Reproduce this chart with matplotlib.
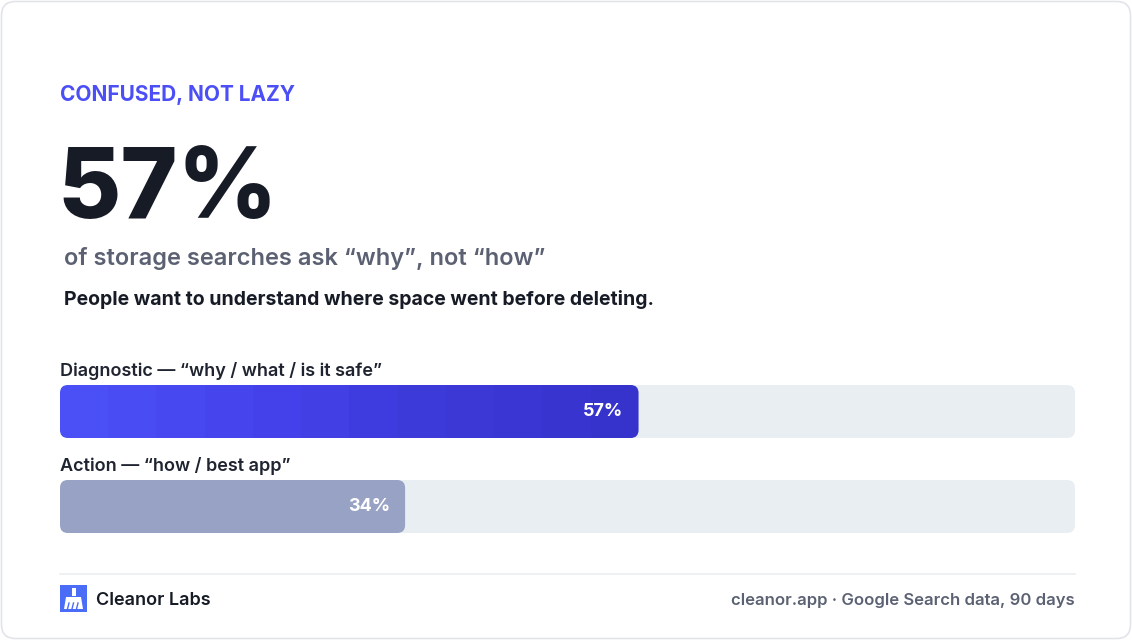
import numpy as np
import matplotlib.pyplot as plt
from matplotlib.patches import FancyBboxPatch, Rectangle, Polygon
from matplotlib.colors import LinearSegmentedColormap

plt.rcParams['font.family'] = ['Inter', 'DejaVu Sans']

# data
categories = ['Diagnostic — “why / what / is it safe”', 'Action — “how / best app”']
shares = [57, 34]
bar_labels = ['57%', '34%']
headline = '57%'
kicker = 'CONFUSED, NOT LAZY'
subtitle = 'of storage searches ask “why”, not “how”'
note = 'People want to understand where space went before deleting.'
brand = 'Cleanor Labs'
source = 'cleanor.app · Google Search data, 90 days'

W, H = 1132, 641
fig = plt.figure(figsize=(W / 100, H / 100), dpi=100)
bg = fig.add_axes([0, 0, 1, 1])
bg.set_xlim(0, W)
bg.set_ylim(H, 0)
bg.axis('off')

# card
bg.add_patch(FancyBboxPatch((1.5, 1.5), W - 3, H - 4, boxstyle='round,pad=0,rounding_size=14',
                            fc='white', ec='#e2e4ea', lw=1.2))

ink = '#161b26'
grey = '#5b6172'
bg.text(60, 101, kicker, color='#4b4ff5', fontsize=15, fontweight='bold', va='baseline')
bg.text(57, 218, headline, color=ink, fontsize=70, fontweight='heavy', va='baseline')
bg.text(64, 265, subtitle, color=grey, fontsize=17, fontweight='semibold', va='baseline')
bg.text(64, 305, note, color=ink, fontsize=14, fontweight='bold', va='baseline')

# footer
bg.plot([60, 1075], [574, 574], color='#eceef2', lw=1.2)
bg.add_patch(Rectangle((60, 585), 27, 27, fc='#4a6cf7', ec='none'))
bg.add_patch(Rectangle((72, 588), 3.5, 8, fc='white', ec='none'))
bg.add_patch(Polygon([(66, 597), (81, 597), (83, 609), (64, 609)], closed=True, fc='white', ec='none'))
for xl in [69, 73.5, 78]:
    bg.plot([xl, xl - 1.5], [603, 609], color='#4a6cf7', lw=1)
bg.text(96, 605, brand, color=ink, fontsize=13, fontweight='semibold', va='baseline')
bg.text(1075, 605, source, color=grey, fontsize=12, fontweight='semibold', va='baseline', ha='right')

# bars
x0, x1 = 60, 1075
top, bot = 385, 533
gap = 95
bh = 53 / gap
ax = fig.add_axes([x0 / W, 1 - bot / H, (x1 - x0) / W, (bot - top) / H])
ax.set_xlim(0, 100)
ax.set_ylim(1 + bh / 2, -bh / 2)
ax.axis('off')

xpp = 100 / (x1 - x0)
ypp = 1 / gap
aspect = ypp / xpp
r = 8 * xpp

grad = LinearSegmentedColormap.from_list('g', ['#4b50f6', '#4542ec', '#3d3ad9', '#3633cc'])
for i, (cat, v, lab) in enumerate(zip(categories, shares, bar_labels)):
    ax.add_patch(FancyBboxPatch((0, i - bh / 2), 100, bh, boxstyle=f'round,pad=0,rounding_size={r}',
                                mutation_aspect=aspect, fc='#e9eef3', ec='none'))
    bar = FancyBboxPatch((0, i - bh / 2), v, bh, boxstyle=f'round,pad=0,rounding_size={r}',
                         mutation_aspect=aspect, fc='#98a2c4' if i else 'none', ec='none')
    ax.add_patch(bar)
    if i == 0:
        steps = np.linspace(0, 1, 12).reshape(1, -1)
        im = ax.imshow(steps, cmap=grad, aspect='auto', extent=(0, v, i + bh / 2, i - bh / 2),
                       interpolation='nearest', zorder=2)
        im.set_clip_path(bar)
    ax.text(v - 15 * xpp, i, lab, color='white', fontsize=13, fontweight='bold',
            ha='right', va='center', zorder=3)
    bg.text(60, top + i * gap - 9, cat, color='#1f2430', fontsize=13, fontweight='semibold', va='baseline')

fig.savefig('out.png', dpi=100)
